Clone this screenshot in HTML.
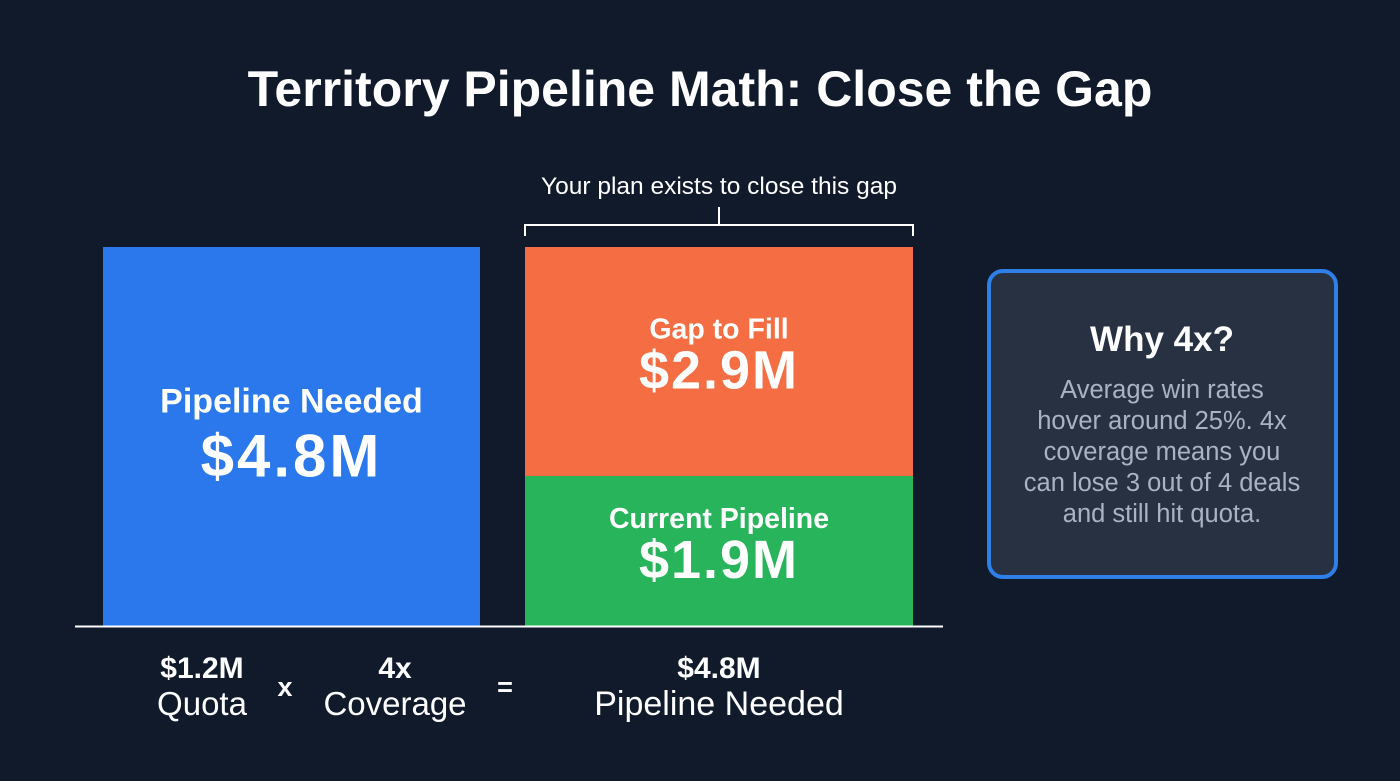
<!DOCTYPE html>
<html><head><meta charset="utf-8"><style>
html,body{margin:0;padding:0;background:#111a2b;}
svg{display:block;font-family:"Liberation Sans",sans-serif;}
</style></head><body>
<svg id="chart" width="1400" height="781" viewBox="0 0 1400 781">
<rect width="1400" height="781" fill="#111a2b"/>
<text x="700" y="106" text-anchor="middle" fill="#fff" font-size="50" font-weight="bold">Territory Pipeline Math: Close the Gap</text>
<g id="bars"></g>
<line x1="75" y1="626.5" x2="943" y2="626.5" stroke="#fff" stroke-width="2"/>
<path d="M525 236 V225 H913 V236 M719 225 V207" fill="none" stroke="#fff" stroke-width="2"/>
<text x="719" y="194" text-anchor="middle" fill="#fff" font-size="24.5">Your plan exists to close this gap</text>
<g fill="#fff" text-anchor="middle">
<text x="202" y="678" font-size="30" font-weight="bold">$1.2M</text>
<text x="202" y="715" font-size="33">Quota</text>
<text x="285" y="696" font-size="27" font-weight="bold">x</text>
<text x="395" y="678" font-size="30" font-weight="bold">4x</text>
<text x="395" y="715" font-size="33">Coverage</text>
<text x="505" y="696" font-size="27" font-weight="bold">=</text>
<text x="719" y="678" font-size="30" font-weight="bold">$4.8M</text>
<text x="719" y="715" font-size="34">Pipeline Needed</text>
</g>
<g>
<rect x="989" y="271" width="347" height="306" rx="14" fill="#283142" stroke="#2f7fe8" stroke-width="4"/>
<text x="1162" y="351" text-anchor="middle" fill="#fff" font-size="35" font-weight="bold">Why 4x?</text>
<g fill="#aab3c2" font-size="25.5" text-anchor="middle">
<text x="1162" y="398">Average win rates</text>
<text x="1162" y="429">hover around 25%. 4x</text>
<text x="1162" y="460">coverage means you</text>
<text x="1162" y="491">can lose 3 out of 4 deals</text>
<text x="1162" y="522">and still hit quota.</text>
</g></g>
</svg>
<script>
const categories = ["Pipeline Needed", "Current Pipeline", "Gap to Fill"];
const values = [4.8, 1.9, 2.9];
const valueLabels = ["$4.8M", "$1.9M", "$2.9M"];
const colors = ["#2a78ec", "#27b45a", "#f46d43"];
const baseY = 626, topY = 247, maxV = 4.8;
const y = v => baseY - v / maxV * (baseY - topY);
const ns = "http://www.w3.org/2000/svg";
const g = document.getElementById("bars");
function mk(tag, attrs){const e=document.createElementNS(ns,tag);for(const k in attrs)e.setAttribute(k,attrs[k]);return e;}
const specs = [{x:103,w:377,base:0,i:0},{x:525,w:388,base:0,i:1},{x:525,w:388,base:values[1],i:2}];
const names=["bar-pipeline-needed","bar-current-pipeline","bar-gap-to-fill"];
specs.forEach(s=>{
  const v=values[s.i], y0=y(s.base), y1=y(s.base+v);
  const r=mk("rect",{x:s.x,y:y1,width:s.w,height:y0-y1,fill:colors[s.i]});
  
  
  g.appendChild(r);
  const cx=s.x+s.w/2, cy=(y0+y1)/2;
  const big = s.i===0;
  const t1=mk("text",{x:cx,y:cy+(big?-24:-23),"text-anchor":"middle",fill:"#fff","font-size":big?34:28.5,"font-weight":"bold"});
  t1.textContent=categories[s.i];
  
  
  g.appendChild(t1);
  const t2=mk("text",{x:cx,y:cy+(big?40:27),"text-anchor":"middle",fill:"#fff","font-size":big?60:54,"font-weight":"bold","letter-spacing":big?3:2});
  t2.textContent=valueLabels[s.i];
  
  
  g.appendChild(t2);
});
</script>
</body></html>
